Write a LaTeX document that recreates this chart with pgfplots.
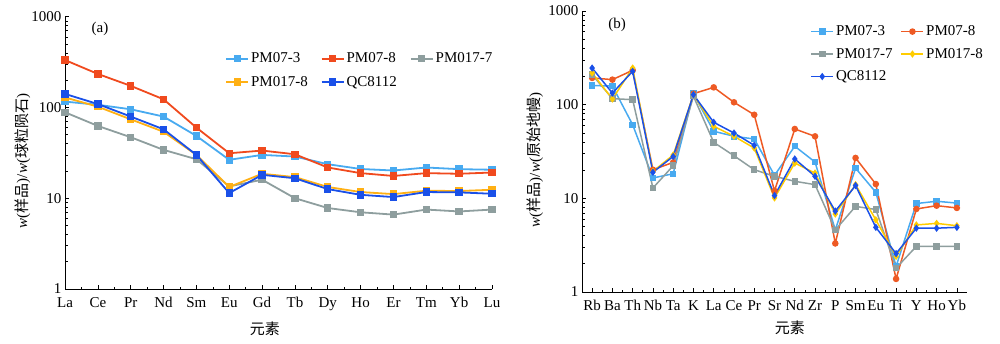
\documentclass[border=0pt]{standalone}
\usepackage{fontspec}
\setmainfont{Liberation Serif}
\newfontfamily\cjk{Noto Sans CJK SC}
\usepackage{pgfplots}
\usepackage{pgfplotstable}
\pgfplotsset{compat=1.18}

\definecolor{clb}{HTML}{48AAF0}
\definecolor{cred}{HTML}{F04A1E}
\definecolor{cred2}{HTML}{EE5A24}
\definecolor{cgray}{HTML}{8E9E9E}
\definecolor{corg}{HTML}{FFB014}
\definecolor{cyel}{HTML}{FFCC00}
\definecolor{cblue}{HTML}{1A50E8}

\pgfplotstableread{
idx PMa PMb PMc PMd QC
0 116 333 88.5 129 141
1 107 234 62.6 102 109
2 95.5 173 47 74 79.4
3 79.4 123 34.1 54 57.5
4 48.6 60 26.9 30 30
5 26.5 31.3 13.5 13.3 11.4
6 30 33.5 16 18.6 18.1
7 28.8 30.5 10 17.1 16.6
8 23.7 21.8 7.8 13.3 12.6
9 21 18.9 7.0 11.7 10.9
10 20.2 17.6 6.6 11.1 10.3
11 21.8 18.9 7.5 12.1 11.7
12 20.9 18.6 7.15 12 11.6
13 20.6 19.2 7.5 12.4 11.2
}\ree

\pgfplotstableread{
idx PMa PMb PMc PMd QC
0 160 193 209 218 246
1 158 185 116 115 133
2 61 233 113 246 227
3 16.5 20.2 12.9 19.4 19
4 18.3 24.2 22.3 29 28
5 131 131 123 128 128
6 52 153 39.6 58.7 64.8
7 46 106 28.5 46 49.8
8 43 78 20.2 34.4 36.8
9 17.6 12 17.2 10.1 10.7
10 36 55 15.2 23.8 26.3
11 24.4 45.9 14 18.6 17.2
12 4.6 3.3 4.6 6.8 7.3
13 21 27 8.2 14 13.7
14 11.6 14.2 7.6 5.9 4.9
15 1.88 1.38 1.8 2.4 2.57
16 8.8 7.7 3.07 5.2 4.8
17 9.3 8.35 3.07 5.4 4.8
18 8.9 7.9 3.07 5.1 4.9
}\spider

\pgfplotsset{
  legend image code/.code={%
    \draw[mark repeat=2,mark phase=2] plot coordinates {(0pt,0pt) (11pt,0pt) (22pt,0pt)};},
}

\begin{document}
\begin{tikzpicture}
\useasboundingbox (0,0) rectangle (1000pt,344pt);
% Panel (a)
\begin{axis}[
  scale only axis,
  ymode=log, ymin=1, ymax=1000,
  ytick={1,10,100,1000}, yticklabels={1,10,100,1000},
  axis x line*=bottom, axis y line*=left,
  axis line style={-, line width=0.8pt},
  tick align=inside,
  major tick length=4pt, minor tick length=2.5pt,
  tick style={black, line width=0.6pt},
  minor x tick num=1,
  tick label style={font=\fontsize{15}{15}\selectfont},
  xticklabel style={yshift=-5pt},
  clip=false,
  legend cell align=left,
  at={(65pt,55pt)}, anchor=south west,
  width=427pt, height=272.3pt,
  xmin=0, xmax=13,
  xtick={0,...,13},
  xticklabels={La,Ce,Pr,Nd,Sm,Eu,Gd,Tb,Dy,Ho,Er,Tm,Yb,Lu},
  xlabel={\cjk\fontsize{15}{15}\selectfont 元素},
  ylabel={\fontsize{15}{15}\selectfont \textit{w}({\cjk 样品})/\textit{w}({\cjk 球粒陨石})},
  xlabel style={at={(axis description cs:0.468,-0.145)}, anchor=center},
  ylabel style={at={(axis description cs:-0.10,0.47)}, anchor=center},
  legend columns=3,
  legend style={draw=none, fill=none, font=\fontsize{15}{15}\selectfont,
      /tikz/every even column/.append style={column sep=11pt},
      row sep=8pt, inner sep=0pt,
      at={(axis description cs:0.375,0.875)}, anchor=north west},
  every axis plot/.append style={line width=1.8pt, mark=square*, mark size=2.8pt},
]
\addplot[color=clb] table[x=idx,y=PMa]{\ree};
\addlegendentry{PM07-3}
\addplot[color=cred] table[x=idx,y=PMb]{\ree};
\addlegendentry{PM07-8}
\addplot[color=cgray] table[x=idx,y=PMc]{\ree};
\addlegendentry{PM017-7}
\addplot[color=corg] table[x=idx,y=PMd]{\ree};
\addlegendentry{PM017-8}
\addplot[color=cblue] table[x=idx,y=QC]{\ree};
\addlegendentry{QC8112}
\node[font=\fontsize{15}{15}\selectfont] at (axis description cs:0.082,0.957) {(a)};
\end{axis}
% Panel (b)
\begin{axis}[
  scale only axis,
  ymode=log, ymin=1, ymax=1000,
  ytick={1,10,100,1000}, yticklabels={1,10,100,1000},
  axis x line*=bottom, axis y line*=left,
  axis line style={-, line width=0.8pt},
  tick align=inside,
  major tick length=4pt, minor tick length=2.5pt,
  tick style={black, line width=0.6pt},
  minor x tick num=1,
  tick label style={font=\fontsize{15}{15}\selectfont},
  xticklabel style={yshift=-5pt},
  clip=false,
  legend cell align=left,
  at={(582pt,52pt)}, anchor=south west,
  width=385pt, height=281pt,
  xmin=-0.5, xmax=18.5,
  xtick={0,...,18},
  xticklabels={Rb,Ba,Th,Nb,Ta,K,La,Ce,Pr,Sr,Nd,Zr,P,Sm,Eu,Ti,Y,Ho,Yb},
  xlabel={\cjk\fontsize{15}{15}\selectfont 元素},
  ylabel={\fontsize{15}{15}\selectfont \textit{w}({\cjk 样品})/\textit{w}({\cjk 原始地幔})},
  xlabel style={at={(axis description cs:0.54,-0.128)}, anchor=center},
  ylabel style={at={(axis description cs:-0.122,0.47)}, anchor=center},
  legend columns=2,
  legend style={draw=none, fill=none, font=\fontsize{15}{15}\selectfont,
      /tikz/every even column/.append style={column sep=6pt},
      row sep=7pt, inner sep=0pt,
      at={(axis description cs:0.593,0.955)}, anchor=north west},
  every axis plot/.append style={line width=1.5pt, mark size=2.5pt},
]
\addplot[color=clb, mark=square*] table[x=idx,y=PMa]{\spider};
\addlegendentry{PM07-3}
\addplot[color=cred2, mark=*] table[x=idx,y=PMb]{\spider};
\addlegendentry{PM07-8}
\addplot[color=cgray, mark=square*] table[x=idx,y=PMc]{\spider};
\addlegendentry{PM017-7}
\addplot[color=cyel, mark=diamond*] table[x=idx,y=PMd]{\spider};
\addlegendentry{PM017-8}
\addplot[color=cblue, mark=diamond*] table[x=idx,y=QC]{\spider};
\addlegendentry{QC8112}
\node[font=\fontsize{15}{15}\selectfont] at (axis description cs:0.091,0.95) {(b)};
\end{axis}
\end{tikzpicture}
\end{document}
